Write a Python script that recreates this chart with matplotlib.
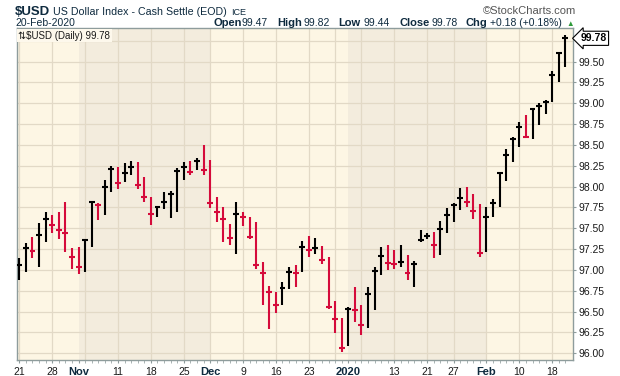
import numpy as np
import matplotlib
matplotlib.use("Agg")
import matplotlib.pyplot as plt

plt.rcParams['font.family'] = ['Liberation Sans', 'DejaVu Sans']

W, H = 620, 376

# daily HLC of $USD, 21-Oct-2019 .. 20-Feb-2020 (trading days only)
high = [97.14, 97.32, 97.39, 97.56, 97.69, 97.66, 97.70, 97.81, 97.26, 97.27,
        97.37, 97.82, 97.80, 98.08, 98.25, 98.24, 98.28, 98.31, 98.30, 98.12,
        97.88, 97.77, 97.94, 97.95, 98.22, 98.30, 98.31, 98.34, 98.50, 98.32,
        97.88, 97.75, 97.55, 97.82, 97.70, 97.63, 97.58, 97.10, 96.81, 96.73,
        96.86, 97.04, 97.06, 97.35, 97.41, 97.38, 97.29, 97.16, 96.63, 96.42,
        96.56, 96.79, 96.58, 96.79, 97.04, 97.28, 97.30, 97.24, 97.30, 97.18,
        97.11, 97.48, 97.44, 97.46, 97.59, 97.74, 97.80, 97.98, 98.00, 97.91,
        97.79, 97.75, 97.85, 98.17, 98.45, 98.60, 98.77, 98.86, 98.94, 99.00,
        99.04, 99.39, 99.62, 99.82]
low = [96.88, 96.98, 97.14, 97.04, 97.33, 97.44, 97.37, 97.22, 97.01, 96.95,
       96.98, 97.27, 97.60, 97.66, 97.94, 97.97, 98.06, 98.14, 97.97, 97.82,
       97.54, 97.63, 97.73, 97.62, 97.69, 98.08, 98.14, 98.20, 98.14, 97.74,
       97.58, 97.34, 97.30, 97.19, 97.53, 97.37, 97.01, 96.58, 96.29, 96.48,
       96.58, 96.77, 96.79, 96.97, 97.16, 97.19, 97.07, 96.53, 96.24, 96.01,
       96.09, 96.38, 96.22, 96.30, 96.52, 96.94, 97.00, 97.01, 97.04, 96.88,
       96.80, 97.34, 97.37, 97.14, 97.18, 97.44, 97.58, 97.72, 97.75, 97.61,
       97.15, 97.22, 97.63, 97.75, 98.07, 98.30, 98.48, 98.58, 98.57, 98.74,
       98.87, 99.02, 99.26, 99.44]
close = [97.06, 97.26, 97.23, 97.42, 97.61, 97.54, 97.48, 97.44, 97.16, 97.04,
         97.36, 97.81, 97.78, 97.99, 98.21, 98.04, 98.16, 98.24, 98.02, 97.88,
         97.67, 97.75, 97.82, 97.91, 98.19, 98.24, 98.18, 98.31, 98.20, 97.80,
         97.69, 97.61, 97.38, 97.67, 97.63, 97.39, 97.06, 96.96, 96.74, 96.58,
         96.78, 96.98, 96.96, 97.28, 97.24, 97.26, 97.12, 96.55, 96.41, 96.06,
         96.53, 96.52, 96.34, 96.71, 96.99, 97.17, 97.08, 97.07, 97.10, 96.96,
         97.07, 97.36, 97.41, 97.30, 97.49, 97.66, 97.78, 97.86, 97.82, 97.71,
         97.20, 97.63, 97.80, 98.16, 98.38, 98.57, 98.72, 98.59, 98.93, 98.97,
         99.01, 99.34, 99.60, 99.78]

tick_pos = [0, 5, 9, 15, 20, 25, 29, 34, 39, 44, 50, 57, 62, 66, 71, 76, 81]
tick_text = ["21", "28", "Nov", "11", "18", "25", "Dec", "9", "16", "23",
             "2020", "13", "21", "27", "Feb", "10", "18"]
bold_ticks = ["Nov", "Dec", "2020", "Feb"]
week_pos = [0, 5, 10, 15, 20, 25, 29, 34, 39, 44, 48, 52, 57, 62, 66, 71, 76, 81]
month_start = [9, 29, 50, 71]

LIGHT = '#fdf6e4'
DARK = '#f3ecdd'
GRID = '#e2d9c6'
UP = '#000000'
DOWN = '#d50b3b'
NAVY = '#0e2a3e'


def fx(x):
    return x / W


def fy(y):
    return 1 - y / H


fig = plt.figure(figsize=(W / 100, H / 100), dpi=100)
fig.patch.set_facecolor('white')
ax = fig.add_axes([fx(16.5), fy(360), (573.3 - 16.5) / W, (360 - 28.3) / H])

n = len(close)
x = np.arange(n)
ax.set_xlim(-0.43, 84.2)
ax.set_ylim(95.92, 99.90)
ax.set_facecolor(LIGHT)

# month shading: Nov and Jan darker
ax.axvspan(month_start[0], month_start[1], color=DARK, lw=0, zorder=0)
ax.axvspan(month_start[2], month_start[3], color=DARK, lw=0, zorder=0)

for p in week_pos:
    ax.axvline(p, color=GRID, lw=0.9, zorder=1)
for v in np.arange(96.0, 99.9, 0.25):
    ax.axhline(v, color=GRID, lw=0.9, zorder=1)

colors = [UP] + [UP if close[i] >= close[i - 1] else DOWN for i in range(1, n)]
ax.vlines(x, low, high, colors=colors, lw=1.5, zorder=3)
ax.hlines(close, x - 0.45, x + 0.45, colors=colors, lw=1.5, zorder=3)

for s in ax.spines.values():
    s.set_color('#8e9c9c')
    s.set_linewidth(1.0)

ax.yaxis.tick_right()
ax.set_yticks(np.arange(96.0, 99.6, 0.25))
ax.set_yticklabels([f"{v:.2f}" for v in np.arange(96.0, 99.6, 0.25)])
ax.tick_params(axis='y', length=2.5, width=0.8, color='#8e9c9c', pad=1.5,
               labelsize=7.5, labelcolor='#1a1a1a')

ax.set_xticks(tick_pos)
ax.set_xticklabels(tick_text)
ax.set_xticks(x, minor=True)
ax.tick_params(axis='x', which='major', length=2.5, width=0.8, color='#8e9c9c',
               pad=2.5, labelsize=7.5, labelcolor='#1a1a1a')
ax.tick_params(axis='x', which='minor', length=2, width=0.6, color='#9aa6a6')
for lab in ax.get_xticklabels():
    if lab.get_text() in bold_ticks:
        lab.set_fontweight('bold')
        lab.set_color(NAVY)
        lab.set_fontsize(8)

# last price marker
ax.annotate(f"{close[-1]:.2f}", xy=(1.0, close[-1]), xycoords=('axes fraction', 'data'),
            xytext=(5, 0), textcoords='offset points', va='center', ha='left',
            fontsize=7.5, fontweight='bold', color='black', annotation_clip=False,
            bbox=dict(boxstyle='larrow,pad=0.2', fc='white', ec='black', lw=0.8))

# label inside the plot
ax.text(0.003, 0.993, "⇅$USD (Daily) 99.78", transform=ax.transAxes, ha='left', va='top',
        fontsize=7, color='#1a1a1a', zorder=5,
        bbox=dict(boxstyle='square,pad=0.15', fc='#fdf8ec', ec='none'))

# header
fig.text(fx(15), fy(15), "$USD", fontsize=9.5, fontweight='bold', color=NAVY, va='baseline')
fig.text(fx(53), fy(15), "US Dollar Index - Cash Settle (EOD)", fontsize=7.7, color=NAVY, va='baseline')
fig.text(fx(231), fy(15), "ICE", fontsize=6.5, color=NAVY, va='baseline')
fig.text(fx(576), fy(14), "©StockCharts.com", fontsize=8, color='#555555', va='baseline', ha='right')

fig.text(fx(15), fy(25.5), "20-Feb-2020", fontsize=7.5, color=NAVY, va='baseline')
pieces = [(213, "Open", True), (242, "99.47", False), (277, "High", True), (304, "99.82", False),
          (338, "Low", True), (363, "99.44", False), (399, "Close", True), (432, "99.78", False),
          (466, "Chg", True), (490, "+0.18 (+0.18%)", False)]
for px, txt, b in pieces:
    fig.text(fx(px), fy(25.5), txt, fontsize=8 if b else 7.5,
             fontweight='bold' if b else 'normal', color=NAVY, va='baseline')
fig.text(fx(566), fy(25.5), "▲", fontsize=5.5, color='#2e9a3a', va='baseline')

fig.savefig("out.png", dpi=100, facecolor='white')
